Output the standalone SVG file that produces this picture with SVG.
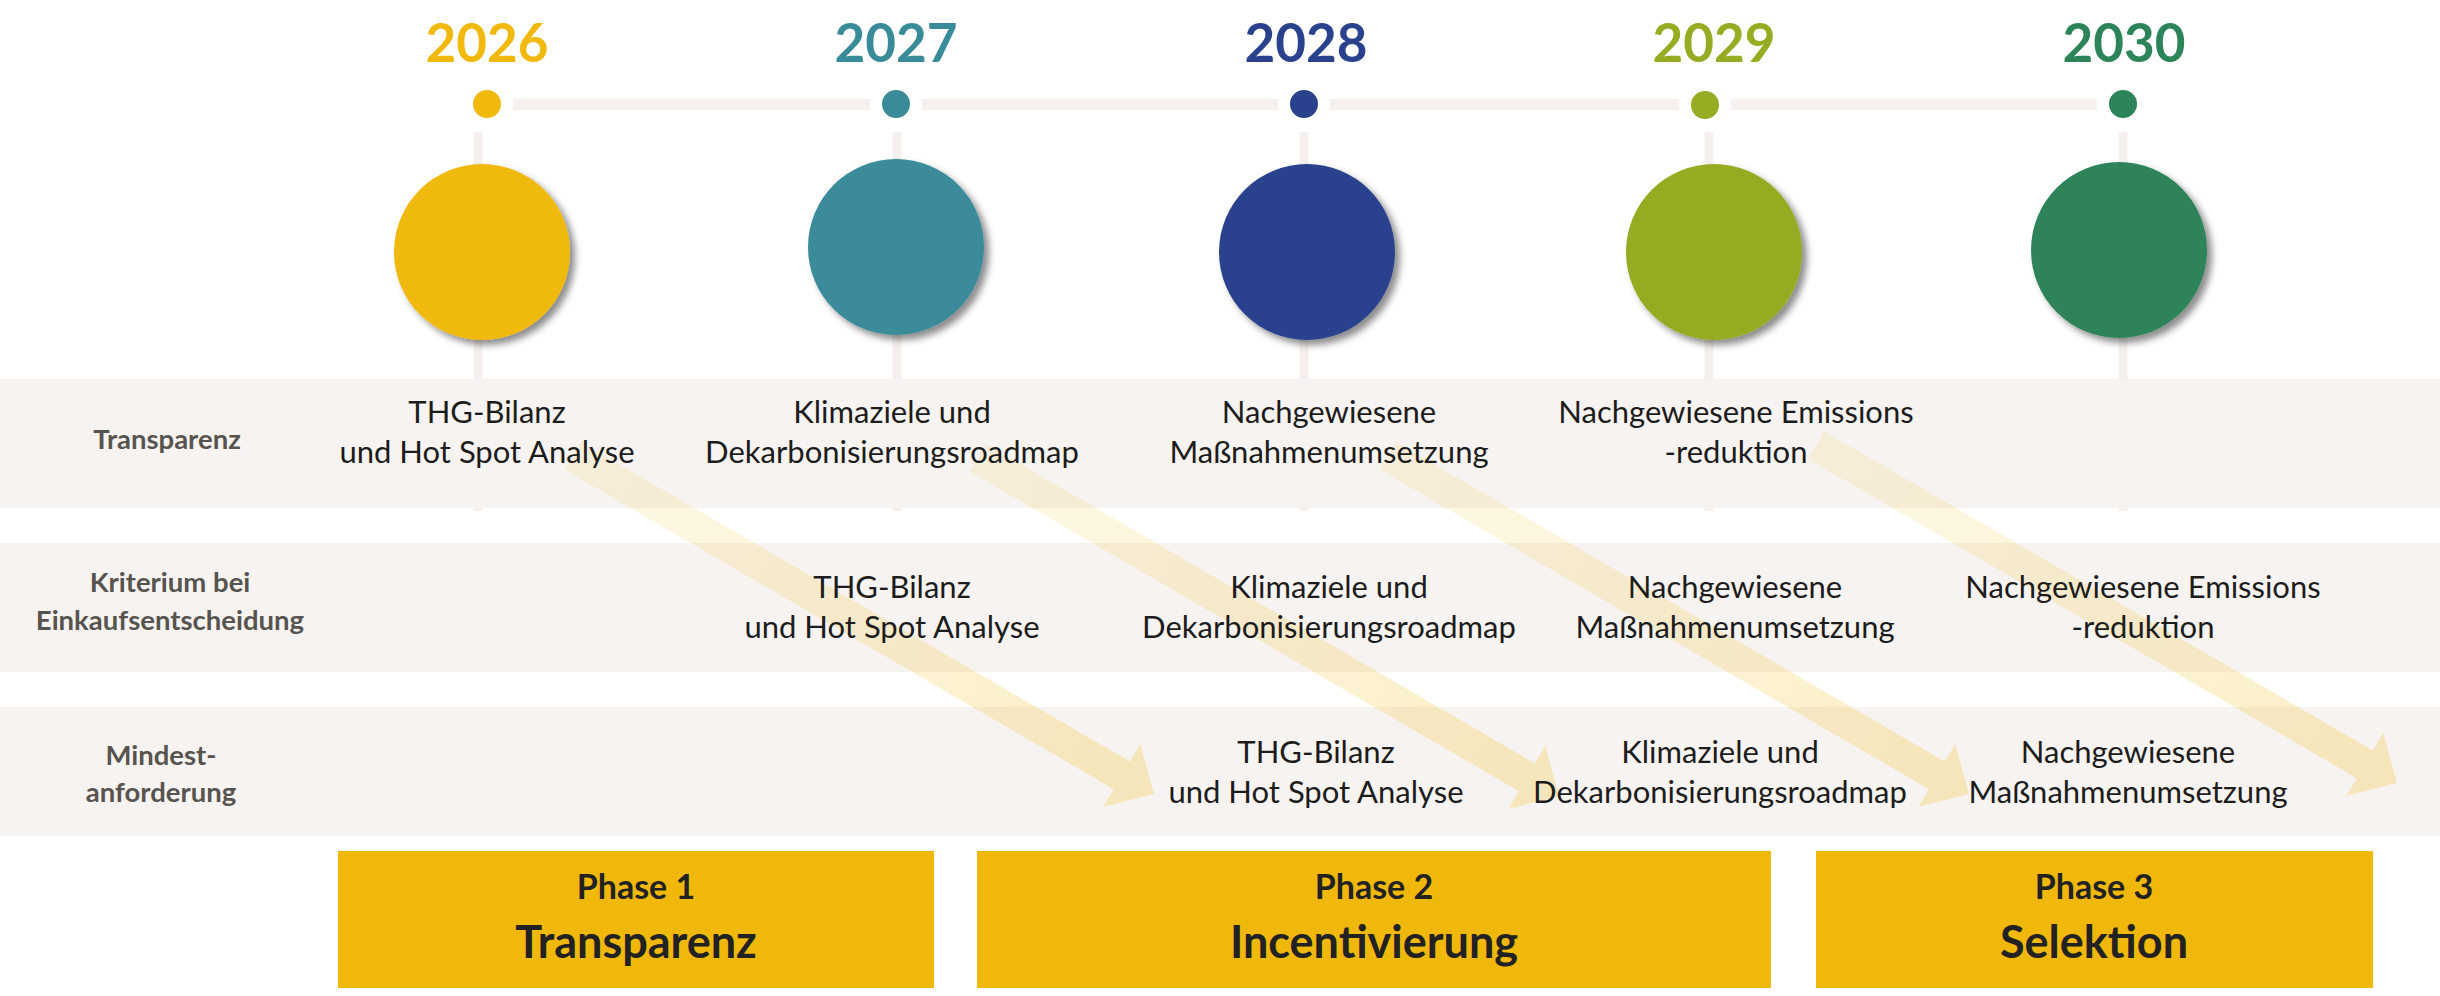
<svg xmlns="http://www.w3.org/2000/svg" width="2440" height="996" viewBox="0 0 2440 996">
<style>
.row{fill:#F7F3F0}
.vline{stroke:#F5F0ED;stroke-width:9}
.hline{stroke:#F6F1EE;stroke-width:11}
.dot{stroke:#FFFFFF;stroke-width:12}
.year{font-family:Lato,"Liberation Sans",sans-serif;font-weight:700;font-size:53px;text-anchor:middle}
.lbl{font-family:Lato,"Liberation Sans",sans-serif;font-weight:700;font-size:27.5px;fill:#57534F;text-anchor:middle}
.cell{font-family:Lato,"Liberation Sans",sans-serif;font-size:31px;fill:#1C1C1C;text-anchor:middle}
.phase{fill:#F0B80A}
.ph1{font-family:Lato,"Liberation Sans",sans-serif;font-weight:700;font-size:34px;fill:#222222;text-anchor:middle}
.ph2{font-family:Lato,"Liberation Sans",sans-serif;font-weight:700;font-size:45px;fill:#222222;text-anchor:middle}
.arrow{fill:url(#ag)}
</style>
<defs>
<filter id="sh" x="-20%" y="-20%" width="150%" height="150%">
<feDropShadow dx="5" dy="5" stdDeviation="3.5" flood-color="#000000" flood-opacity="0.45"/>
</filter>
<linearGradient id="ag" gradientUnits="userSpaceOnUse" x1="0" y1="0" x2="672" y2="0">
<stop offset="0" stop-color="#F0B90B" stop-opacity="0.10"/>
<stop offset="1" stop-color="#F0B90B" stop-opacity="0.24"/>
</linearGradient>
<path id="arr" d="M0,-16 L635,-16 L635,-36.5 L672,0 L635,36.5 L635,16 L0,16 Z"/>
</defs>

<g id="timeline">
<line class="vline" x1="478" y1="132" x2="478" y2="511"/>
<line class="vline" x1="897" y1="132" x2="897" y2="511"/>
<line class="vline" x1="1304" y1="132" x2="1304" y2="511"/>
<line class="vline" x1="1709" y1="132" x2="1709" y2="511"/>
<line class="vline" x1="2123" y1="132" x2="2123" y2="511"/>
<line class="hline" x1="487" y1="104.5" x2="2123" y2="104.5"/>
</g>

<g id="rows">
<rect class="row" x="0" y="379" width="2440" height="129"/>
<rect class="row" x="0" y="543" width="2440" height="129"/>
<rect class="row" x="0" y="707" width="2440" height="129"/>
</g>

<g id="y2026">
<text class="year" x="487" y="62" fill="#F0B90B">2026</text>
<circle class="dot" cx="487" cy="104" r="20" fill="#F0B90B"/>
<circle cx="482" cy="252" r="88" fill="#F0B90B" filter="url(#sh)"/>
</g>
<g id="y2027">
<text class="year" x="896" y="62" fill="#3A8B9A">2027</text>
<circle class="dot" cx="896" cy="104" r="20" fill="#3A8B9A"/>
<circle cx="896" cy="247" r="88" fill="#3A8B9A" filter="url(#sh)"/>
</g>
<g id="y2028">
<text class="year" x="1306" y="62" fill="#2A428D">2028</text>
<circle class="dot" cx="1304" cy="104" r="20" fill="#2A428D"/>
<circle cx="1307" cy="252" r="88" fill="#2A428D" filter="url(#sh)"/>
</g>
<g id="y2029">
<text class="year" x="1714" y="62" fill="#97AB23">2029</text>
<circle class="dot" cx="1705" cy="105" r="20" fill="#97AB23"/>
<circle cx="1714" cy="252" r="88" fill="#97AB23" filter="url(#sh)"/>
</g>
<g id="y2030">
<text class="year" x="2124" y="62" fill="#2D8459">2030</text>
<circle class="dot" cx="2123" cy="104" r="20" fill="#2D8459"/>
<circle cx="2119" cy="250" r="88" fill="#2D8459" filter="url(#sh)"/>
</g>

<g id="connectors">
<use href="#arr" class="arrow" transform="translate(573,456) rotate(30.19)"/>
<use href="#arr" class="arrow" transform="translate(978,458) rotate(30.19)"/>
<use href="#arr" class="arrow" transform="translate(1388,456) rotate(30.19)"/>
<use href="#arr" class="arrow" transform="translate(1816,445) rotate(30.19)"/>
</g>

<g id="row-labels">
<text class="lbl" x="167" y="449">Transparenz</text>
<text class="lbl" x="170" y="592">Kriterium bei</text>
<text class="lbl" x="170" y="630">Einkaufsentscheidung</text>
<text class="lbl" x="161" y="765">Mindest-</text>
<text class="lbl" x="161" y="802">anforderung</text>
</g>

<g id="cell-r1-2026"><text class="cell" x="487" y="423">THG-Bilanz</text><text class="cell" x="487" y="463">und Hot Spot Analyse</text></g>
<g id="cell-r1-2027"><text class="cell" x="892" y="423">Klimaziele und</text><text class="cell" x="892" y="463">Dekarbonisierungsroadmap</text></g>
<g id="cell-r1-2028"><text class="cell" x="1329" y="423">Nachgewiesene</text><text class="cell" x="1329" y="463">Maßnahmenumsetzung</text></g>
<g id="cell-r1-2029"><text class="cell" x="1736" y="423">Nachgewiesene Emissions</text><text class="cell" x="1736" y="463">-reduktion</text></g>

<g id="cell-r2-2027"><text class="cell" x="892" y="598">THG-Bilanz</text><text class="cell" x="892" y="638">und Hot Spot Analyse</text></g>
<g id="cell-r2-2028"><text class="cell" x="1329" y="598">Klimaziele und</text><text class="cell" x="1329" y="638">Dekarbonisierungsroadmap</text></g>
<g id="cell-r2-2029"><text class="cell" x="1735" y="598">Nachgewiesene</text><text class="cell" x="1735" y="638">Maßnahmenumsetzung</text></g>
<g id="cell-r2-2030"><text class="cell" x="2143" y="598">Nachgewiesene Emissions</text><text class="cell" x="2143" y="638">-reduktion</text></g>

<g id="cell-r3-2028"><text class="cell" x="1316" y="763">THG-Bilanz</text><text class="cell" x="1316" y="803">und Hot Spot Analyse</text></g>
<g id="cell-r3-2029"><text class="cell" x="1720" y="763">Klimaziele und</text><text class="cell" x="1720" y="803">Dekarbonisierungsroadmap</text></g>
<g id="cell-r3-2030"><text class="cell" x="2128" y="763">Nachgewiesene</text><text class="cell" x="2128" y="803">Maßnahmenumsetzung</text></g>

<g id="phase1">
<rect class="phase" x="338" y="851" width="596" height="137"/>
<text class="ph1" x="636" y="899">Phase 1</text>
<text class="ph2" x="636" y="958">Transparenz</text>
</g>
<g id="phase2">
<rect class="phase" x="977" y="851" width="794" height="137"/>
<text class="ph1" x="1374" y="899">Phase 2</text>
<text class="ph2" x="1374" y="958">Incentivierung</text>
</g>
<g id="phase3">
<rect class="phase" x="1816" y="851" width="557" height="137"/>
<text class="ph1" x="2094" y="899">Phase 3</text>
<text class="ph2" x="2094" y="958">Selektion</text>
</g>
</svg>
